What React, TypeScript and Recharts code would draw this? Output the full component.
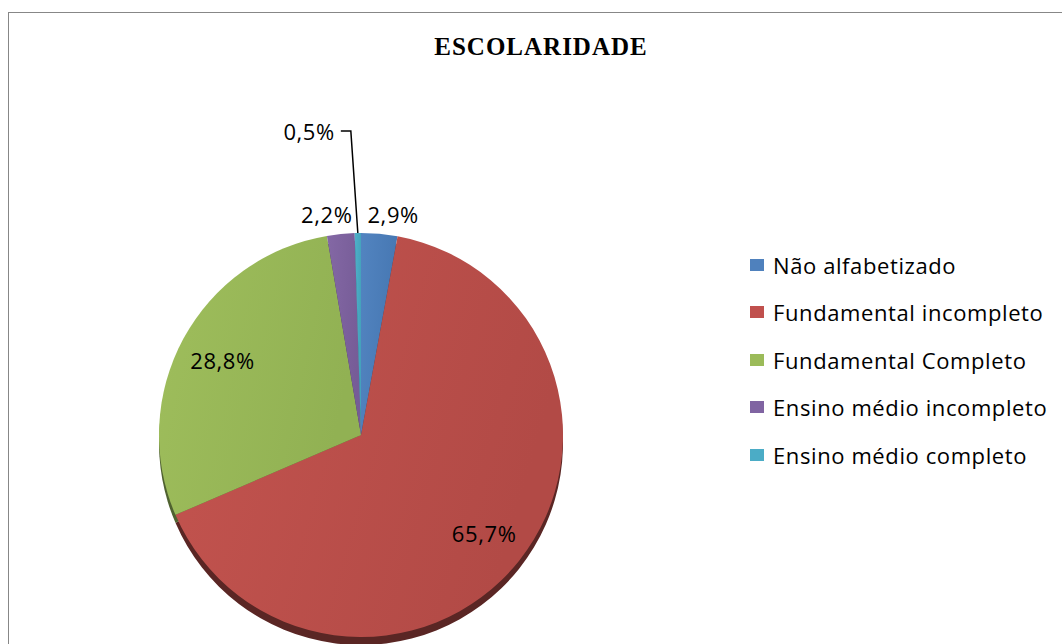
import React from 'react';
import { PieChart, Pie, Cell, Legend } from 'recharts';

const categories = [
  'Não alfabetizado',
  'Fundamental incompleto',
  'Fundamental Completo',
  'Ensino médio incompleto',
  'Ensino médio completo',
];
const values = [2.9, 65.7, 28.8, 2.2, 0.5];
const colors = ['#4F81BD', '#C0504D', '#9BBB59', '#8064A2', '#4BACC6'];
const lightColors = ['#5284C0', '#C4544F', '#9FBE5C', '#8468A5', '#4FB0C9'];
const darkColors = ['#4677B2', '#B24A46', '#91B153', '#765C97', '#44A2BB'];
const rimColors = ['#2B4566', '#5A2624', '#4F6230', '#3F3352', '#275C6A'];
const title = 'ESCOLARIDADE';

const data = categories.map((name, i) => ({ name, value: values[i] }));

const fmt = (v: number) => v.toFixed(1).replace('.', ',') + '%';
const FONT = "'Open Sans', 'DejaVu Sans', sans-serif";
const FS = 22;
const LS = 0.6;
const RAD = Math.PI / 180;

const renderLabel = (props: any) => {
  const { cx, cy, midAngle, outerRadius, value, index } = props;
  const cos = Math.cos(-midAngle * RAD);
  const sin = Math.sin(-midAngle * RAD);
  const txt = fmt(value);
  const common = {
    fontFamily: FONT,
    fontSize: FS,
    letterSpacing: LS,
    fill: '#000',
    dominantBaseline: 'central' as const,
  };
  if (value >= 5) {
    const r = outerRadius * 0.78;
    return (
      <text key={`l-${index}`} x={cx + r * cos} y={cy + r * sin} textAnchor="middle" {...common}>
        {txt}
      </text>
    );
  }
  if (value >= 1) {
    const r = outerRadius + 20;
    const side = cos >= 0 ? 1 : -1;
    return (
      <text
        key={`l-${index}`}
        x={cx + r * cos + side * 12}
        y={cy + r * sin}
        textAnchor="middle"
        {...common}
      >
        {txt}
      </text>
    );
  }
  // tiny slice: leader line with elbow
  const ex = cx + outerRadius * cos;
  const ey = cy + outerRadius * sin;
  const kx = ex - 7;
  const ky = cy - outerRadius - 102;
  const hx = kx - 10;
  return (
    <g key={`l-${index}`}>
      <polyline
        points={`${ex},${ey} ${kx},${ky} ${hx},${ky}`}
        fill="none"
        stroke="#000"
        strokeWidth={1.5}
      />
      <text x={hx - 6} y={ky} textAnchor="end" {...common}>
        {txt}
      </text>
    </g>
  );
};

const renderLegend = () => (
  <div style={{ fontFamily: FONT, fontSize: FS, letterSpacing: LS, color: '#000' }}>
    {categories.map((c, i) => (
      <div
        key={c}
        style={{ display: 'flex', alignItems: 'center', height: 47.5, whiteSpace: 'nowrap' }}
      >
        <div style={{ width: 14, height: 12, background: colors[i], marginRight: 9 }} />
        <span>{c}</span>
      </div>
    ))}
  </div>
);

export default function App() {
  return (
    <div
      style={{
        position: 'absolute',
        left: 0,
        top: 0,
        width: 1062,
        height: 644,
        overflow: 'hidden',
        background: '#fff',
      }}
    >
      <div
        style={{
          position: 'absolute',
          left: 8,
          top: 12,
          width: 1100,
          height: 700,
          border: '1.5px solid #878787',
          boxSizing: 'border-box',
        }}
      />
      <div
        style={{
          position: 'absolute',
          left: 0,
          top: 33,
          width: 1082,
          textAlign: 'center',
          fontFamily: "'Liberation Serif', 'Times New Roman', serif",
          fontWeight: 'bold',
          fontSize: 25,
          letterSpacing: 1,
          color: '#000',
        }}
      >
        {title}
      </div>
      <div style={{ position: 'absolute', left: 0, top: 0 }}>
        <PieChart width={1062} height={644}>
          <defs>
            {colors.map((c, i) => (
              <linearGradient key={i} id={`grad-${i}`} x1="0" y1="0" x2="1" y2="0.3">
                <stop offset="0%" stopColor={lightColors[i]} />
                <stop offset="100%" stopColor={darkColors[i]} />
              </linearGradient>
            ))}
          </defs>
          <Pie
            data={data}
            dataKey="value"
            nameKey="name"
            cx={356}
            cy={438}
            outerRadius={202}
            startAngle={90}
            endAngle={-270}
            stroke="none"
            isAnimationActive={false}
            legendType="none"
            label={false}
            labelLine={false}
          >
            {data.map((d, i) => (
              <Cell key={d.name} fill={rimColors[i]} />
            ))}
          </Pie>
          <Pie
            data={data}
            dataKey="value"
            nameKey="name"
            cx={356}
            cy={430}
            outerRadius={202}
            startAngle={90}
            endAngle={-270}
            stroke="none"
            isAnimationActive={false}
            label={renderLabel}
            labelLine={false}
          >
            {data.map((d, i) => (
              <Cell key={d.name} fill={`url(#grad-${i})`} />
            ))}
          </Pie>
          <Legend
            content={renderLegend}
            wrapperStyle={{ left: 750, top: 241, width: 310, right: 'auto', bottom: 'auto' }}
          />
        </PieChart>
      </div>
    </div>
  );
}
